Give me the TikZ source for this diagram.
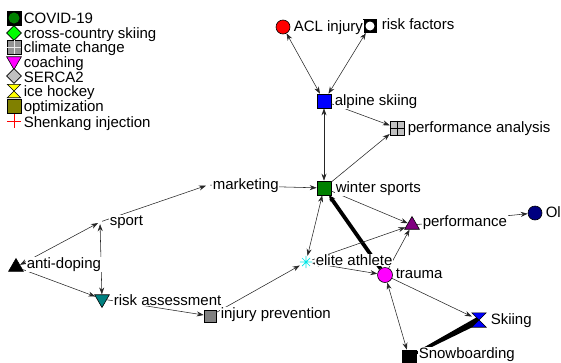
\documentclass[tikz,border=0pt]{standalone}
\usepackage{fontspec}
\setmainfont{Liberation Sans}
\usetikzlibrary{arrows.meta,shapes.geometric,calc}
\definecolor{cgreen}{RGB}{0,128,0}
\definecolor{clime}{RGB}{0,255,0}
\definecolor{cmag}{RGB}{255,0,255}
\definecolor{csilver}{RGB}{192,192,192}
\definecolor{cgray}{RGB}{128,128,128}
\definecolor{colive}{RGB}{128,128,0}
\definecolor{cyell}{RGB}{255,255,0}
\definecolor{cpurple}{RGB}{128,0,128}
\definecolor{cnavy}{RGB}{0,0,128}
\definecolor{cteal}{RGB}{0,128,128}
\definecolor{ccyan}{RGB}{0,230,230}
\begin{document}
\begin{tikzpicture}[x=1pt,y=-1pt,
  sq/.style={rectangle,draw=black,line width=0.6pt,minimum size=13pt,inner sep=0pt},
  circ/.style={circle,draw=black,line width=0.6pt,minimum size=14pt,inner sep=0pt},
  tri/.style={regular polygon,regular polygon sides=3,draw=black,line width=0.6pt,minimum size=17pt,inner sep=0pt},
  itri/.style={tri,shape border rotate=180},
  dia/.style={diamond,draw=black,line width=0.6pt,minimum size=15pt,inner sep=0pt},
  pt/.style={circle,minimum size=4pt,inner sep=0pt},
  box/.style={rectangle,minimum size=13pt,inner sep=0pt},
  lbl/.style={anchor=base west,fill=white,inner sep=0.6pt,font=\fontsize{15}{15}\selectfont},
  ed/.style={line width=0.55pt,draw=black!85},
  arr/.style={ed,-{Stealth[length=7pt,width=5pt]}},
  darr/.style={ed,{Stealth[length=7pt,width=5pt]}-{Stealth[length=7pt,width=5pt]}},
  heavy/.style={line width=3.8pt,draw=black}
]
\useasboundingbox (0,0) rectangle (561,362);

% ---------- legend markers ----------
\node[sq,fill=black,minimum size=14pt] (g1) at (14,18) {};
\node[circle,fill=cgreen,minimum size=11pt,inner sep=0pt] (g1c) at (g1) {};
\node[dia,fill=clime] (g2) at (14,33) {};
\node[sq,fill=cgray!85,minimum size=14pt] (g3) at (14,47) {};
\draw[white!85!gray,line width=1pt] (g3.north) -- (g3.south) (g3.west) -- (g3.east);
\node[itri,fill=cmag] (g4) at (14,61) {};
\node[dia,fill=csilver] (g5) at (14,76) {};
\node[box] (g6) at (14,91) {};
\draw[fill=cyell,line width=0.6pt] (g6.north west) -- (g6.north east) -- (g6.south west) -- (g6.south east) -- cycle;
\node[sq,fill=colive,minimum size=14pt] (g7) at (14,106) {};
\node[box] (g8) at (14,121) {};
\draw[red,line width=0.7pt] (g8.north) -- (g8.south) (g8.west) -- (g8.east);

% ---------- network markers ----------
\node[circ,fill=red] (acl) at (283,27) {};
\node[sq,fill=black] (rf) at (370,26) {};
\node[circle,fill=white,minimum size=9pt,inner sep=0pt] at (rf) {};
\node[sq,fill=blue,minimum size=14pt] (alp) at (324,101) {};
\node[sq,fill=csilver,minimum size=14pt] (pa) at (397,128) {};
\draw[black,line width=0.6pt] (pa.north) -- (pa.south) (pa.west) -- (pa.east);
\node[sq,fill=cgreen,minimum size=14pt] (ws) at (324,188) {};
\node[tri,fill=cpurple] (perf) at (412,225) {};
\node[circ,fill=cnavy] (ol) at (535,213) {};
\node[box,minimum size=12pt] (ea) at (306,262) {};
\draw[ccyan,line width=0.7pt] (ea.north) -- (ea.south) (ea.west) -- (ea.east)
  ($(ea)+(-4,-4)$) -- ($(ea)+(4,4)$) ($(ea)+(4,-4)$) -- ($(ea)+(-4,4)$);
\node[circ,fill=cmag,minimum size=15pt] (tr) at (385,275) {};
\node[box,minimum size=14pt] (ski) at (479,320) {};
\node[sq,fill=black,minimum size=14pt] (snow) at (409,357) {};
\node[tri,fill=black] (ad) at (16,267) {};
\node[pt] (sp) at (100,222) {};
\node[pt] (mk) at (208,185) {};
\node[itri,fill=cteal] (ra) at (102,299) {};
\node[sq,fill=cgray,minimum size=12pt] (ip) at (210,316) {};

% ---------- edges ----------
\draw[darr] (acl) -- (alp);
\draw[darr] (rf) -- (alp);
\draw[arr] (alp) -- (pa);
\draw[arr] (ws) -- (pa);
\draw[darr] (ws) -- (alp);
\draw[arr] (mk) -- (ws);
\draw[arr] (sp) -- (mk);
\draw[darr] (ad) -- (sp);
\draw[darr] (sp) -- (ra);
\draw[arr] (ad) -- (ra);
\draw[arr] (ra) -- (ip);
\draw[arr] (ip) -- (ea);
\draw[darr] (ws) -- (ea);
\draw[heavy,-{Stealth[length=6pt,width=6pt]}] (tr) -- (ws);
\draw[arr] (ea) -- (perf);
\draw[arr] (ws) -- (perf);
\draw[arr] (tr) -- (perf);
\draw[arr] (perf) -- (ol);
\draw[darr] (ea) -- (tr);
\draw[arr] (tr) -- (ski);
\draw[darr] (tr) -- (snow);
\fill[black] ($(snow)!1pt!90:(ski)$) -- ($(ski)!3.5pt!-90:(snow)$)
  -- ($(ski)!3.5pt!90:(snow)$) -- ($(snow)!1pt!-90:(ski)$) -- cycle;
\draw[fill=blue,line width=0.6pt] (ski.north west) -- (ski.north east) -- (ski.south west) -- (ski.south east) -- cycle;

% ---------- legend labels ----------
\node[lbl] (t1) at (23,23) {COVID-19};
\node[lbl] (t2) at (23,38) {cross-country skiing};
\node[lbl] (t3) at (23,52) {climate change};
\node[lbl] (t4) at (23,67) {coaching};
\node[lbl] (t5) at (23,82) {SERCA2};
\node[lbl] (t6) at (23,96) {ice hockey};
\node[lbl] (t7) at (23,111) {optimization};
\node[lbl] (t8) at (23,127) {Shenkang injection};

% ---------- network labels ----------
\node[lbl] (lacl) at (293,31) {ACL injury};
\node[lbl] (lrf) at (381,29) {risk factors};
\node[lbl] (lalp) at (334,105) {alpine skiing};
\node[lbl] (lpa) at (407,132) {performance analysis};
\node[lbl] (lws) at (335,192) {winter sports};
\node[lbl] (lperf) at (422,226) {performance};
\node[lbl] (lol) at (545,217) {Ol};
\node[lbl] (lea) at (315,265) {elite athlete};
\node[lbl] (ltr) at (395,278) {trauma};
\node[lbl] (lski) at (490,324) {Skiing};
\node[lbl] (lsnow) at (418,358) {Snowboarding};
\node[lbl] (lad) at (26,268) {anti-doping};
\node[lbl] (lsp) at (109,225) {sport};
\node[lbl] (lmk) at (212,189) {marketing};
\node[lbl] (lra) at (113,305) {risk assessment};
\node[lbl] (lip) at (220,318) {injury prevention};
\end{tikzpicture}
\end{document}
